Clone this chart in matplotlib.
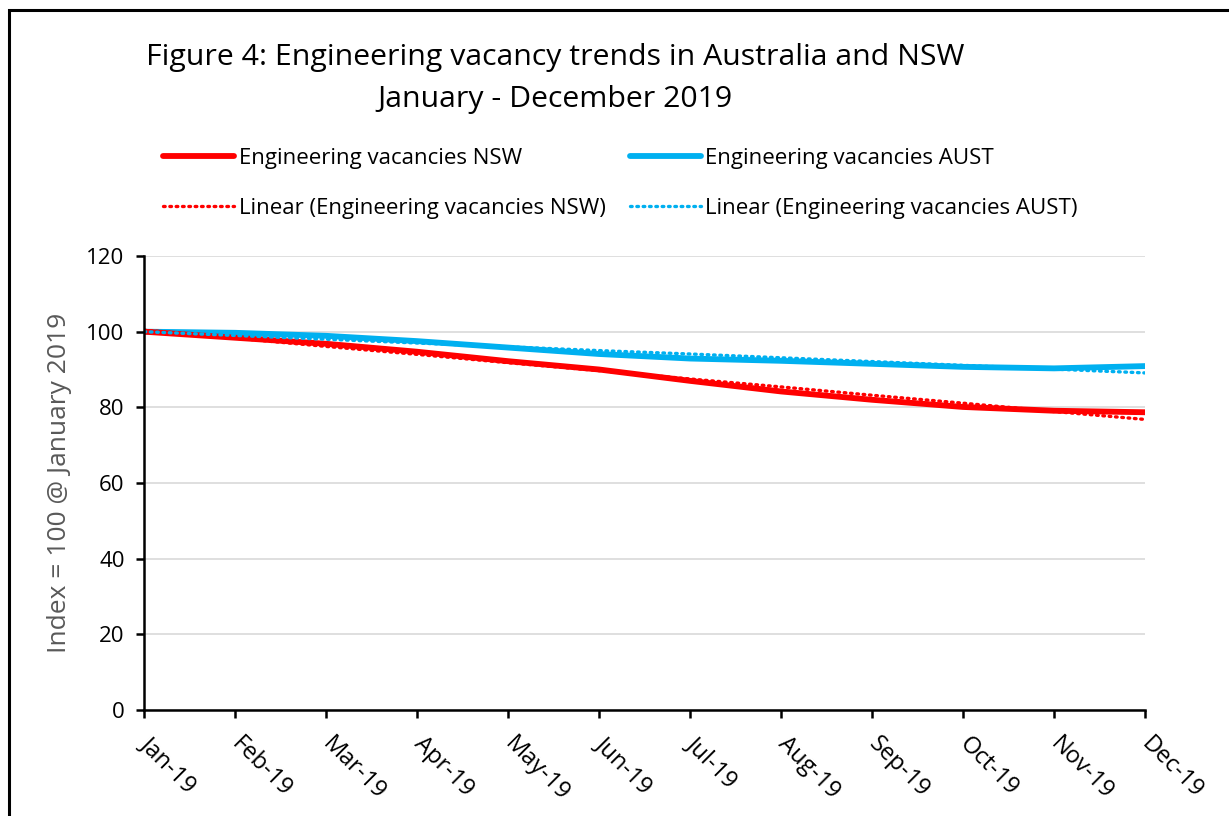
import matplotlib
matplotlib.use("Agg")
import matplotlib.pyplot as plt
from matplotlib.patches import Rectangle

months = ["Jan-19", "Feb-19", "Mar-19", "Apr-19", "May-19", "Jun-19",
          "Jul-19", "Aug-19", "Sep-19", "Oct-19", "Nov-19", "Dec-19"]
nsw = [100.0, 98.4, 96.8, 94.7, 92.2, 90.0, 87.0, 84.2, 82.0, 80.1, 79.1, 78.7]
aust = [100.0, 99.7, 98.9, 97.5, 95.8, 94.1, 92.9, 92.3, 91.5, 90.7, 90.3, 90.9]
trend_nsw = [100.4, 98.3, 96.1, 94.0, 91.8, 89.7, 87.5, 85.4, 83.2, 81.1, 78.9, 76.8]
trend_aust = [100.0, 99.0, 98.0, 97.0, 96.0, 95.0, 94.1, 93.1, 92.1, 91.1, 90.1, 89.1]
yticks = [0, 20, 40, 60, 80, 100, 120]

plt.rcParams['font.family'] = ['Open Sans', 'DejaVu Sans']

W, H = 1229, 816
fig = plt.figure(figsize=(W / 100, H / 100), dpi=100)

# outer frame
fig.patches.append(Rectangle((9 / W, -0.5), 2.0, (H - 10) / H + 0.5,
                             transform=fig.transFigure, fill=False,
                             edgecolor='black', linewidth=2.2))

ax = fig.add_axes([144 / W, (H - 710) / H, (1145 - 144) / W, (710 - 256) / H])
x = list(range(len(months)))

red = '#FF0000'
blue = '#00B0F0'
l1, = ax.plot(x, nsw, color=red, lw=4.2, solid_capstyle='round', zorder=4,
              label='Engineering vacancies NSW')
l2, = ax.plot(x, aust, color=blue, lw=4.2, solid_capstyle='round', zorder=3,
              label='Engineering vacancies AUST')
l3, = ax.plot(x, trend_nsw, color=red, lw=2.4, linestyle=(0, (0.5, 1.4)),
              dash_capstyle='round', zorder=5,
              label='Linear (Engineering vacancies NSW)')
l4, = ax.plot(x, trend_aust, color=blue, lw=2.4, linestyle=(0, (0.5, 1.4)),
              dash_capstyle='round', zorder=5,
              label='Linear (Engineering vacancies AUST)')

ax.set_xlim(0, len(months) - 1)
ax.set_ylim(0, 120)
ax.set_yticks(yticks)
ax.set_yticklabels([str(v) for v in yticks], fontsize=16)
ax.set_xticks(x)
ax.set_xticklabels(months, fontsize=17, rotation=-45, ha='left',
                   va='center', rotation_mode='anchor')
ax.tick_params(axis='x', direction='out', length=6, width=1.8, pad=16)
ax.tick_params(axis='y', direction='out', length=6, width=1.8, pad=8)

ax.grid(axis='y', color='#D9D9D9', lw=1.2)
ax.set_axisbelow(True)
for s in ['top', 'right']:
    ax.spines[s].set_visible(False)
for s in ['left', 'bottom']:
    ax.spines[s].set_linewidth(1.8)
    ax.spines[s].set_color('black')
    ax.spines[s].set_zorder(6)

ax.set_ylabel('Index = 100 @ January 2019', fontsize=19, color='#595959',
              labelpad=10)

fig.text(555 / W, 1 - 57 / H, 'Figure 4: Engineering vacancy trends in Australia and NSW',
         ha='center', va='center', fontsize=21.8)
fig.text(555 / W, 1 - 100 / H, 'January - December 2019',
         ha='center', va='center', fontsize=21.8)

leg = fig.legend(handles=[l1, l3, l2, l4], ncol=2, loc='upper left',
                 bbox_to_anchor=(143 / W, 1 - 128 / H), frameon=False,
                 fontsize=16, handlelength=3.2, handletextpad=0.2,
                 columnspacing=1.1, labelspacing=1.3)

fig.savefig('out.png', dpi=100)
